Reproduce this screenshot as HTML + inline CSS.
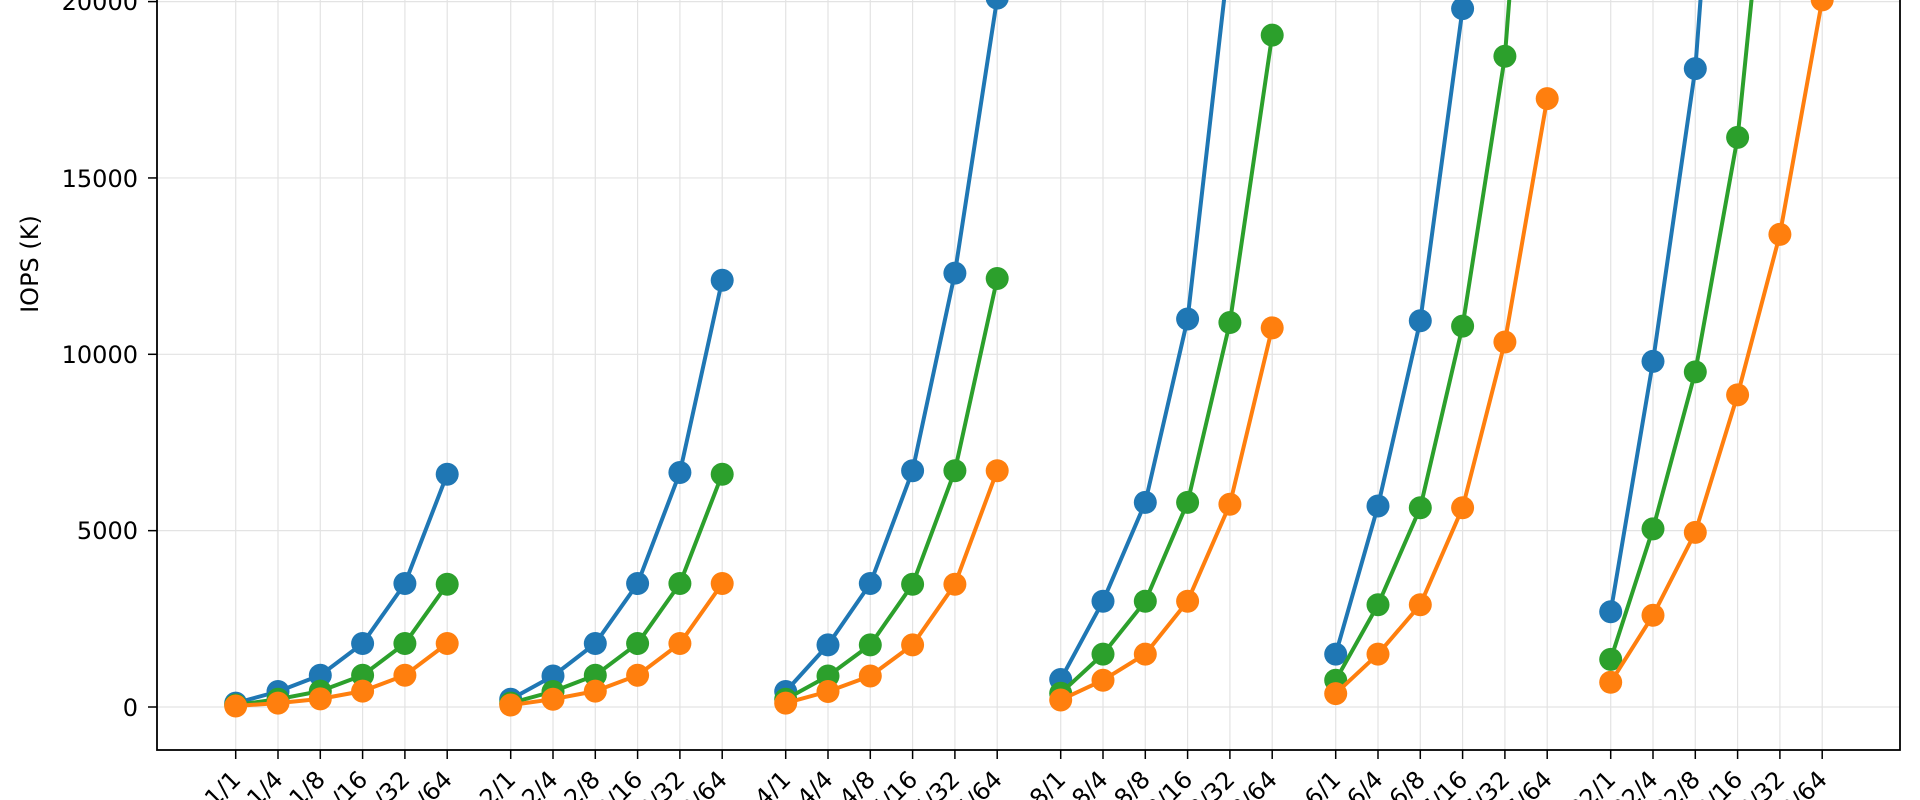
<!DOCTYPE html>
<html><head><meta charset="utf-8"><style>
html,body{margin:0;padding:0;background:#fff;}
svg{display:block;font-family:"DejaVu Sans","Liberation Sans",sans-serif;}
.t{font-size:24px;fill:#000;}
</style></head><body>
<svg id="c" width="1920" height="800" viewBox="0 0 1920 800" xmlns="http://www.w3.org/2000/svg">
<rect width="1920" height="800" fill="#fff"/>
<g id="grid" stroke="#e3e3e3" stroke-width="1.2"></g>
<g id="series"></g>
<rect x="157" y="-20" width="1743" height="770" fill="none" stroke="#000" stroke-width="1.8"/>
<g id="ticks" stroke="#000" stroke-width="1.5"></g>
<g class="t" text-anchor="end">
<text x="138" y="10">20000</text>
<text x="138" y="187">15000</text>
<text x="138" y="363">10000</text>
<text x="138" y="539">5000</text>
<text x="138" y="716">0</text>
</g>
<text class="t" transform="translate(38,264) rotate(-90)" text-anchor="middle">IOPS (K)</text>
<g class="t" text-anchor="end">
<text transform="translate(242,781) rotate(-45)">1/1</text>
<text transform="translate(284.3,781) rotate(-45)">1/4</text>
<text transform="translate(326.6,781) rotate(-45)">1/8</text>
<text transform="translate(368.9,781) rotate(-45)">1/16</text>
<text transform="translate(411.2,781) rotate(-45)">1/32</text>
<text transform="translate(453.5,781) rotate(-45)">1/64</text>
<text transform="translate(517,781) rotate(-45)">2/1</text>
<text transform="translate(559.3,781) rotate(-45)">2/4</text>
<text transform="translate(601.6,781) rotate(-45)">2/8</text>
<text transform="translate(643.9,781) rotate(-45)">2/16</text>
<text transform="translate(686.2,781) rotate(-45)">2/32</text>
<text transform="translate(728.5,781) rotate(-45)">2/64</text>
<text transform="translate(792,781) rotate(-45)">4/1</text>
<text transform="translate(834.3,781) rotate(-45)">4/4</text>
<text transform="translate(876.6,781) rotate(-45)">4/8</text>
<text transform="translate(918.9,781) rotate(-45)">4/16</text>
<text transform="translate(961.2,781) rotate(-45)">4/32</text>
<text transform="translate(1003.5,781) rotate(-45)">4/64</text>
<text transform="translate(1067,781) rotate(-45)">8/1</text>
<text transform="translate(1109.3,781) rotate(-45)">8/4</text>
<text transform="translate(1151.6,781) rotate(-45)">8/8</text>
<text transform="translate(1193.9,781) rotate(-45)">8/16</text>
<text transform="translate(1236.2,781) rotate(-45)">8/32</text>
<text transform="translate(1278.5,781) rotate(-45)">8/64</text>
<text transform="translate(1342,781) rotate(-45)">16/1</text>
<text transform="translate(1384.3,781) rotate(-45)">16/4</text>
<text transform="translate(1426.6,781) rotate(-45)">16/8</text>
<text transform="translate(1468.9,781) rotate(-45)">16/16</text>
<text transform="translate(1511.2,781) rotate(-45)">16/32</text>
<text transform="translate(1553.5,781) rotate(-45)">16/64</text>
<text transform="translate(1617,781) rotate(-45)">32/1</text>
<text transform="translate(1659.3,781) rotate(-45)">32/4</text>
<text transform="translate(1701.6,781) rotate(-45)">32/8</text>
<text transform="translate(1743.9,781) rotate(-45)">32/16</text>
<text transform="translate(1786.2,781) rotate(-45)">32/32</text>
<text transform="translate(1828.5,781) rotate(-45)">32/64</text>
</g>
</svg>
<script>
(function(){
var NS="http://www.w3.org/2000/svg";
function el(p,n,a){var e=document.createElementNS(NS,n);for(var k in a)e.setAttribute(k,a[k]);p.appendChild(e);return e;}
var grid=document.getElementById('grid'),ticks=document.getElementById('ticks'),ser=document.getElementById('series');
function X(g,j){return 235.7+g*275+j*42.3;}
function Y(v){return 707-v*0.03527;}
for(var g=0;g<6;g++)for(var j=0;j<6;j++){var x=X(g,j);
 el(grid,'line',{x1:x,x2:x,y1:0,y2:750});
 el(ticks,'line',{x1:x,x2:x,y1:750,y2:759});}
[0,5000,10000,15000,20000].forEach(function(v){var y=Y(v);
 el(grid,'line',{x1:157,x2:1900,y1:y,y2:y});
 el(ticks,'line',{x1:148,x2:157,y1:y,y2:y});});
var data={
'#1f77b4':[[110,440,900,1800,3500,6600],[220,880,1800,3500,6650,12100],[440,1760,3500,6700,12300,20100],[780,3000,5800,11000,21500,40000],[1500,5700,10950,19800,37000,70000],[2700,9800,18100,34000,60000,110000]],
'#2ca02c':[[55,220,450,900,1800,3480],[110,440,900,1800,3500,6600],[220,880,1760,3480,6700,12150],[390,1500,3000,5800,10900,19050],[760,2900,5650,10800,18450,34000],[1350,5050,9500,16150,28000,50000]],
'#ff7f0e':[[28,110,230,450,900,1800],[55,220,450,900,1800,3500],[110,440,880,1760,3480,6700],[200,760,1500,3000,5750,10750],[380,1500,2900,5650,10350,17250],[700,2600,4950,8850,13400,20050]]};
for(var c in data){data[c].forEach(function(arr,g){
 var pts=arr.map(function(v,j){return X(g,j).toFixed(1)+','+Y(v).toFixed(1);}).join(' ');
 el(ser,'polyline',{points:pts,fill:'none',stroke:c,'stroke-width':4,'stroke-linejoin':'round'});
 arr.forEach(function(v,j){el(ser,'circle',{cx:X(g,j),cy:Y(v),r:11.5,fill:c});});
});}
})();
</script>
</body></html>
